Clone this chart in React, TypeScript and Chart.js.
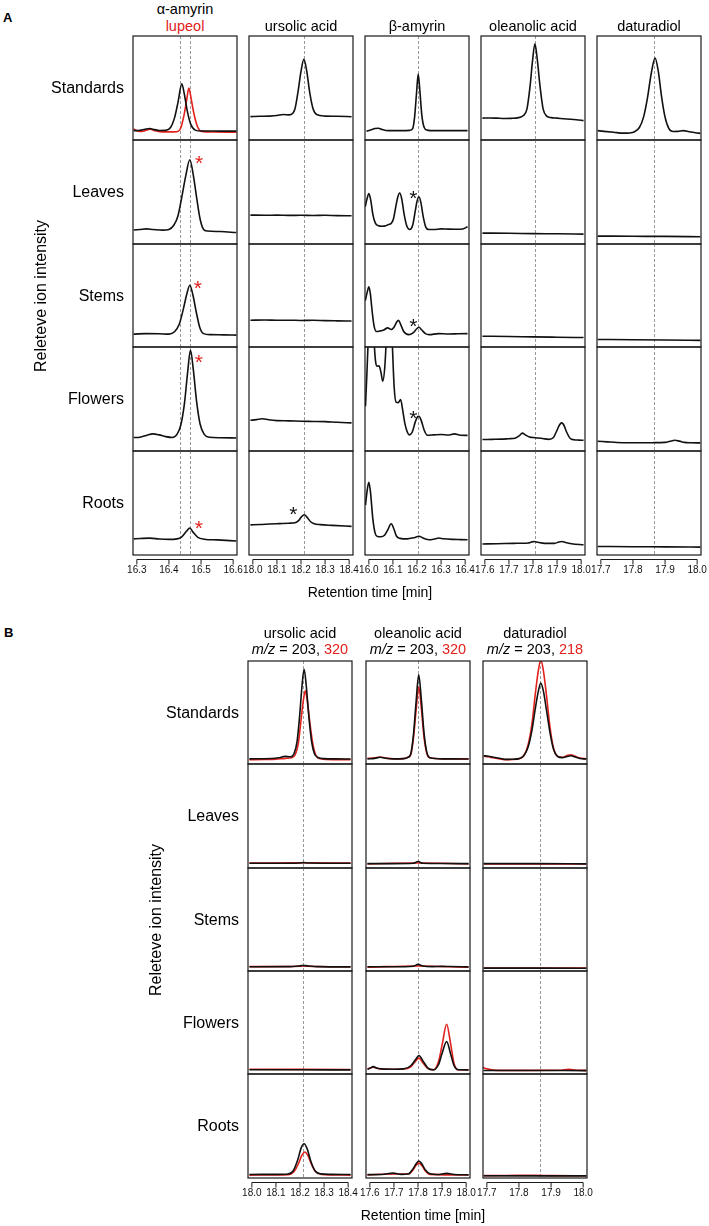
import React, { useEffect, useRef } from 'react';
import { Chart, registerables } from 'chart.js';

Chart.register(...registerables);

const FONT = '"Liberation Sans", Arial, Helvetica, sans-serif';
const BLACK = '#111111';
const RED = '#e2211c';

type Pt = [number, number];

// ---------------- labels ----------------
const tissues = ['Standards', 'Leaves', 'Stems', 'Flowers', 'Roots'];
const aTitles = ['α-amyrin', 'ursolic acid', 'β-amyrin', 'oleanolic acid', 'daturadiol'];
const bTitles = ['ursolic acid', 'oleanolic acid', 'daturadiol'];
const bIons = ['320', '320', '218'];
const yTitle = 'Releteve ion intensity';
const xTitle = 'Retention time [min]';

// ---------------- tick labels (min) ----------------
const aTicks = [
  [16.3, 16.4, 16.5, 16.6],
  [18.0, 18.1, 18.2, 18.3, 18.4],
  [16.0, 16.1, 16.2, 16.3, 16.4],
  [17.6, 17.7, 17.8, 17.9, 18.0],
  [17.7, 17.8, 17.9, 18.0],
];
const bTicks = [
  [18.0, 18.1, 18.2, 18.3, 18.4],
  [17.6, 17.7, 17.8, 17.9, 18.0],
  [17.7, 17.8, 17.9, 18.0],
];
// standard retention times (dashed markers)
const aMarkers = [[16.435, 16.467], [18.212], [16.203], [17.808], [17.866]];
const bMarkers = [[18.214], [17.801], [17.866]];

// ---------------- Panel A data [time, relative intensity] ----------------
const aAmyStd: Pt[] = [[16.29, 9.0], [16.31, 9.3], [16.325, 10.3], [16.34, 11.0], [16.355, 10.0], [16.37, 9.2], [16.39, 9.3], [16.405, 12], [16.418, 22], [16.428, 36], [16.44, 54], [16.448, 44], [16.457, 28], [16.468, 15], [16.482, 9.5], [16.5, 8.6], [16.54, 8.6], [16.58, 8.5], [16.61, 8.5]];
const aLupStd: Pt[] = [[16.29, 10.5], [16.3, 9], [16.315, 8.2], [16.33, 9.5], [16.342, 10.3], [16.355, 9], [16.37, 8], [16.4, 7.8], [16.425, 8], [16.436, 11], [16.447, 24], [16.455, 38], [16.462, 50], [16.469, 40], [16.478, 25], [16.49, 12], [16.502, 8.3], [16.54, 7.7], [16.61, 7.5]];
const aAmyLeaves: Pt[] = [[16.29, 13.5], [16.31, 14], [16.33, 14.5], [16.35, 14], [16.38, 13.3], [16.4, 14], [16.415, 18], [16.428, 27], [16.44, 45], [16.452, 65], [16.465, 81], [16.476, 66], [16.486, 45], [16.497, 24], [16.508, 14], [16.52, 12.5], [16.56, 12], [16.61, 11]];
const aAmyStems: Pt[] = [[16.29, 12.5], [16.33, 13], [16.37, 12.8], [16.4, 12.5], [16.418, 15], [16.432, 22], [16.445, 37], [16.456, 52], [16.465, 60], [16.475, 50], [16.485, 34], [16.496, 19], [16.508, 13], [16.53, 12], [16.57, 11.8], [16.61, 11.5]];
const aAmyFlowers: Pt[] = [[16.29, 13], [16.31, 13.3], [16.33, 15], [16.35, 16.5], [16.37, 15.5], [16.39, 13.8], [16.41, 13], [16.425, 16], [16.437, 25], [16.448, 45], [16.458, 75], [16.467, 97], [16.476, 78], [16.486, 48], [16.497, 26], [16.51, 16], [16.525, 13.2], [16.56, 12.8], [16.61, 12.5]];
const aAmyRoots: Pt[] = [[16.29, 15.5], [16.31, 15.8], [16.34, 16.2], [16.37, 15.4], [16.4, 15], [16.425, 15.5], [16.44, 17.5], [16.455, 23], [16.465, 26], [16.475, 22], [16.49, 17], [16.51, 15.2], [16.55, 14.5], [16.61, 13.5]];

const aUrsStd: Pt[] = [[17.99, 22.5], [18.03, 22.8], [18.07, 23], [18.1, 23.5], [18.127, 24.5], [18.15, 24.2], [18.165, 25.5], [18.175, 30], [18.188, 47], [18.2, 66], [18.212, 77.5], [18.224, 66], [18.236, 46], [18.25, 30], [18.265, 24.5], [18.3, 23], [18.35, 22.8], [18.41, 22.4]];
const aUrsLeaves: Pt[] = [[17.99, 27.8], [18.05, 27.6], [18.1, 27.8], [18.15, 27.5], [18.2, 27.6], [18.25, 27.4], [18.3, 27.6], [18.35, 27.3], [18.41, 27.2]];
const aUrsStems: Pt[] = [[17.99, 26], [18.05, 26.2], [18.1, 25.9], [18.15, 26], [18.2, 25.8], [18.25, 25.9], [18.3, 25.6], [18.35, 25.4], [18.41, 25.2]];
const aUrsFlowers: Pt[] = [[17.99, 29.5], [18.015, 30.2], [18.04, 31], [18.065, 30], [18.1, 29.2], [18.15, 29], [18.2, 28.6], [18.25, 28.4], [18.3, 28.2], [18.35, 27.6], [18.41, 27]];
const aUrsRoots: Pt[] = [[17.99, 29], [18.03, 29.3], [18.07, 29.8], [18.11, 30.2], [18.15, 30.6], [18.175, 31], [18.19, 33], [18.203, 37], [18.214, 38.7], [18.226, 36], [18.24, 32], [18.255, 30], [18.28, 29.2], [18.33, 28.5], [18.41, 27.5]];

const aBamStd: Pt[] = [[15.99, 8.5], [16.01, 9.8], [16.025, 11], [16.04, 11.3], [16.055, 10], [16.07, 9.2], [16.1, 9], [16.14, 9], [16.17, 9.3], [16.182, 11], [16.19, 22], [16.198, 45], [16.205, 63.5], [16.212, 47], [16.22, 24], [16.23, 12], [16.242, 9.5], [16.27, 9], [16.32, 9], [16.36, 9], [16.41, 9]];
const aBamLeaves: Pt[] = [[15.985, 36], [15.992, 43], [16.0, 48.5], [16.008, 42], [16.017, 28], [16.027, 20], [16.04, 17.5], [16.055, 17], [16.07, 17.5], [16.082, 18.8], [16.092, 19.5], [16.102, 24], [16.112, 36], [16.12, 45], [16.128, 49], [16.136, 44], [16.147, 28], [16.158, 17], [16.17, 14], [16.182, 18], [16.193, 32], [16.2, 41], [16.208, 45.5], [16.216, 40], [16.226, 26], [16.236, 16.5], [16.248, 14], [16.27, 14], [16.3, 14.5], [16.33, 14.3], [16.36, 14.2], [16.39, 14.5], [16.41, 16.5]];
const aBamStems: Pt[] = [[15.985, 45], [15.993, 53], [16.0, 58.5], [16.006, 52], [16.014, 34], [16.022, 20], [16.032, 15], [16.045, 15.5], [16.062, 16.5], [16.078, 18.6], [16.093, 17], [16.105, 19.5], [16.115, 24], [16.123, 26], [16.132, 22], [16.145, 15], [16.165, 12], [16.185, 14], [16.198, 17.5], [16.208, 19.2], [16.22, 16.5], [16.235, 13], [16.25, 12], [16.29, 13], [16.33, 12.6], [16.37, 12.8], [16.41, 13]];
const aBamFlowers: Pt[] = [[15.986, 43], [15.992, 75], [15.998, 110], [16.006, 140], [16.016, 140], [16.022, 105], [16.028, 86], [16.035, 81.5], [16.042, 82], [16.05, 76], [16.058, 67], [16.066, 80], [16.073, 108], [16.082, 135], [16.092, 135], [16.098, 100], [16.105, 62], [16.113, 47], [16.122, 46.5], [16.132, 49.5], [16.14, 40], [16.15, 26], [16.16, 18], [16.168, 15.5], [16.18, 18], [16.193, 28], [16.203, 33], [16.208, 33.4], [16.218, 29], [16.23, 20], [16.243, 15.2], [16.27, 15.5], [16.3, 15.8], [16.33, 15.4], [16.355, 16.5], [16.38, 15.2], [16.41, 15]];
const aBamRoots: Pt[] = [[15.986, 48], [15.993, 62], [16.0, 70], [16.007, 60], [16.016, 36], [16.026, 21], [16.036, 17.8], [16.05, 17.5], [16.065, 19], [16.078, 24], [16.093, 30], [16.104, 25], [16.115, 18], [16.13, 16], [16.16, 15.5], [16.185, 16.5], [16.208, 18], [16.228, 16], [16.25, 14.6], [16.27, 15.2], [16.29, 16.3], [16.31, 15.6], [16.35, 15], [16.38, 14.8], [16.41, 14.6]];

const aOleStd: Pt[] = [[17.59, 21], [17.62, 21.2], [17.65, 21], [17.68, 20.7], [17.71, 20.8], [17.74, 21.5], [17.76, 23.5], [17.775, 30], [17.788, 52], [17.798, 76], [17.808, 92.5], [17.818, 77], [17.829, 52], [17.842, 30], [17.857, 23], [17.875, 21.5], [17.9, 21], [17.94, 20.2], [17.98, 19.5], [18.01, 18.6]];
const aOleLeaves: Pt[] = [[17.59, 10.5], [17.7, 10.3], [17.8, 10], [17.9, 9.8], [18.01, 9.5]];
const aOleStems: Pt[] = [[17.59, 10.5], [17.7, 10.2], [17.8, 9.8], [17.9, 9.5], [18.01, 9.2]];
const aOleFlowers: Pt[] = [[17.59, 11], [17.63, 11.2], [17.67, 11.4], [17.7, 11.8], [17.725, 12.3], [17.742, 14.5], [17.756, 17.2], [17.768, 15.5], [17.785, 13.5], [17.81, 12.8], [17.84, 12], [17.865, 11.2], [17.885, 13], [17.898, 19], [17.91, 25], [17.919, 27], [17.928, 25], [17.94, 18], [17.955, 12], [17.97, 10.8], [17.99, 10.5], [18.01, 10.3]];
const aOleRoots: Pt[] = [[17.59, 10.6], [17.65, 10.8], [17.72, 11.2], [17.78, 11.6], [17.794, 12.5], [17.806, 13], [17.82, 12.2], [17.85, 11.2], [17.89, 11.2], [17.907, 12.5], [17.92, 13], [17.935, 12], [17.96, 10.8], [18.01, 9.8]];

const aDatStd: Pt[] = [[17.69, 9], [17.71, 8.3], [17.74, 7.4], [17.77, 6.6], [17.79, 6.8], [17.805, 8], [17.82, 12], [17.833, 22], [17.845, 40], [17.857, 64], [17.869, 78.7], [17.879, 66], [17.889, 42], [17.9, 22], [17.912, 11], [17.925, 8.2], [17.94, 8.3], [17.957, 9], [17.975, 8], [17.995, 7], [18.01, 6.4]];
const aDatLeaves: Pt[] = [[17.69, 7.6], [17.8, 7.4], [17.9, 7.3], [18.01, 7]];
const aDatStems: Pt[] = [[17.69, 7.3], [17.8, 7.1], [17.9, 6.8], [18.01, 6.4]];
const aDatFlowers: Pt[] = [[17.69, 9.4], [17.72, 8.8], [17.75, 8.2], [17.78, 7.9], [17.82, 7.9], [17.86, 8], [17.9, 8.3], [17.915, 9.3], [17.93, 10.3], [17.945, 9.5], [17.96, 8.3], [17.98, 7.9], [18.01, 7.8]];
const aDatRoots: Pt[] = [[17.69, 8.2], [17.8, 8], [17.9, 7.8], [18.01, 7.6]];

// ---------------- Panel B data (m/z 203 black, second ion red) ----------------
const bUrs203Std: Pt[] = [[17.99, 5], [18.04, 5.1], [18.08, 5.3], [18.11, 6], [18.138, 7.4], [18.16, 7], [18.175, 10], [18.188, 22], [18.199, 48], [18.208, 75], [18.217, 92], [18.226, 76], [18.236, 48], [18.248, 22], [18.26, 10], [18.275, 6.3], [18.3, 5.2], [18.35, 5], [18.41, 4.8]];
const bUrs320Std: Pt[] = [[17.99, 4.2], [18.05, 4.3], [18.1, 4.6], [18.14, 5.5], [18.165, 6], [18.18, 9], [18.193, 20], [18.204, 42], [18.213, 60], [18.222, 71], [18.231, 60], [18.241, 40], [18.253, 20], [18.265, 9], [18.28, 5.3], [18.31, 4.5], [18.41, 4.2]];
const bUrs203Leaves: Pt[] = [[17.99, 4.5], [18.1, 4.5], [18.2, 4.8], [18.215, 5.2], [18.23, 4.8], [18.41, 4.5]];
const bUrs320Leaves: Pt[] = [[17.99, 4.8], [18.1, 4.8], [18.215, 5.0], [18.41, 4.7]];
const bUrs203Stems: Pt[] = [[17.99, 4.1], [18.15, 4.2], [18.2, 5], [18.214, 5.4], [18.23, 5], [18.28, 4.2], [18.41, 4]];
const bUrs320Stems: Pt[] = [[17.99, 4.2], [18.2, 4.6], [18.214, 5], [18.23, 4.6], [18.41, 4.1]];
const bUrs203Flowers: Pt[] = [[17.99, 4.1], [18.2, 4.1], [18.41, 4]];
const bUrs320Flowers: Pt[] = [[17.99, 4.6], [18.2, 4.5], [18.41, 4.4]];
const bUrs203Roots: Pt[] = [[17.99, 3.4], [18.1, 3.5], [18.15, 3.8], [18.172, 7], [18.19, 17], [18.205, 29], [18.217, 33], [18.23, 28], [18.245, 16], [18.262, 7], [18.285, 4], [18.33, 3.5], [18.41, 3.4]];
const bUrs320Roots: Pt[] = [[17.99, 2.8], [18.1, 2.9], [18.15, 3.1], [18.175, 6], [18.193, 13.5], [18.208, 22], [18.22, 25], [18.233, 21.5], [18.248, 13], [18.265, 6], [18.29, 3.3], [18.33, 2.9], [18.41, 2.8]];

const bOle203Std: Pt[] = [[17.59, 5], [17.62, 5.5], [17.642, 6.5], [17.665, 5.6], [17.7, 5], [17.74, 5.2], [17.758, 6.5], [17.77, 10], [17.781, 28], [17.792, 60], [17.803, 86.5], [17.814, 62], [17.825, 30], [17.837, 11], [17.85, 6], [17.9, 5], [17.95, 5], [18.01, 4.8]];
const bOle320Std: Pt[] = [[17.59, 5.5], [17.62, 6], [17.642, 6.8], [17.665, 5.8], [17.7, 5], [17.74, 5.2], [17.758, 6.5], [17.77, 9], [17.781, 25], [17.792, 52], [17.803, 75], [17.814, 54], [17.825, 26], [17.837, 10], [17.85, 6], [17.9, 5], [18.01, 5]];
const bOle203Leaves: Pt[] = [[17.59, 4.2], [17.7, 4.2], [17.78, 4.5], [17.8, 6.2], [17.82, 4.5], [17.9, 4.3], [18.01, 4.2]];
const bOle320Leaves: Pt[] = [[17.59, 4], [17.8, 4.8], [18.01, 4]];
const bOle203Stems: Pt[] = [[17.59, 4.1], [17.7, 4.1], [17.78, 4.6], [17.8, 6.4], [17.82, 4.8], [17.86, 4.2], [17.9, 4.5], [17.93, 4.3], [18.01, 4]];
const bOle320Stems: Pt[] = [[17.59, 3.8], [17.8, 4.9], [18.01, 3.7]];
const bOle203Flowers: Pt[] = [[17.59, 4.7], [17.6, 5.5], [17.614, 7.2], [17.63, 5.5], [17.66, 4.7], [17.7, 4.6], [17.74, 5], [17.77, 8], [17.79, 14], [17.804, 17.9], [17.82, 13], [17.84, 6], [17.864, 4.1], [17.885, 9], [17.9, 20], [17.919, 31.5], [17.935, 20], [17.95, 8], [17.967, 4.1], [18.01, 4]];
const bOle320Flowers: Pt[] = [[17.59, 5], [17.614, 6.5], [17.64, 5], [17.7, 4.6], [17.74, 4.8], [17.77, 7], [17.79, 12.5], [17.804, 15.4], [17.82, 11], [17.84, 5.5], [17.864, 4], [17.885, 12], [17.9, 28], [17.919, 48.3], [17.935, 30], [17.95, 10], [17.967, 4.1], [18.01, 4]];
const bOle203Roots: Pt[] = [[17.59, 3.2], [17.65, 3.4], [17.697, 4.7], [17.73, 3.5], [17.76, 4], [17.78, 9], [17.793, 14], [17.804, 16.3], [17.816, 13.5], [17.83, 8], [17.85, 4], [17.88, 3.4], [17.92, 4.4], [17.95, 3.4], [18.01, 3]];
const bOle320Roots: Pt[] = [[17.59, 3], [17.7, 3.8], [17.76, 3.8], [17.78, 8], [17.793, 12.5], [17.804, 14.3], [17.816, 12], [17.83, 7], [17.85, 3.5], [18.01, 2.9]];

const bDat203Std: Pt[] = [[17.69, 8], [17.705, 7.5], [17.72, 6.5], [17.74, 5.5], [17.76, 4.5], [17.78, 4.6], [17.8, 5.2], [17.815, 8], [17.828, 16], [17.84, 32], [17.851, 54], [17.86, 70], [17.868, 78.5], [17.876, 71], [17.886, 52], [17.897, 30], [17.908, 14], [17.92, 7.5], [17.935, 6.2], [17.95, 7.3], [17.962, 8], [17.975, 6.8], [17.99, 5.4], [18.01, 4.8]];
const bDat218Std: Pt[] = [[17.69, 7.5], [17.705, 7], [17.72, 6], [17.74, 5], [17.76, 4.2], [17.78, 4.4], [17.8, 5], [17.815, 8], [17.828, 18], [17.84, 38], [17.851, 68], [17.86, 90], [17.868, 101], [17.876, 91], [17.886, 66], [17.897, 35], [17.908, 15], [17.92, 7.5], [17.935, 6.5], [17.95, 8.2], [17.962, 9], [17.975, 7.5], [17.99, 5.8], [18.01, 5]];
const bDat203Leaves: Pt[] = [[17.69, 4.2], [17.85, 4.2], [18.01, 4]];
const bDat218Leaves: Pt[] = [[17.69, 4], [18.01, 3.9]];
const bDat203Stems: Pt[] = [[17.69, 2.8], [18.01, 2.7]];
const bDat218Stems: Pt[] = [[17.69, 2.9], [18.01, 2.8]];
const bDat203Flowers: Pt[] = [[17.69, 3.4], [17.8, 3.4], [18.01, 3.3]];
const bDat218Flowers: Pt[] = [[17.685, 6.7], [17.7, 5], [17.72, 3.8], [17.8, 3.5], [17.93, 3.6], [17.955, 4.5], [17.98, 3.6], [18.01, 3.5]];
const bDat203Roots: Pt[] = [[17.69, 2.1], [18.01, 2]];
const bDat218Roots: Pt[] = [[17.69, 2.3], [17.76, 2.4], [17.85, 2.6], [17.9, 2.3], [18.01, 2.2]];

// series grouped [column][row]
const aBlackCols: Pt[][][] = [
  [aAmyStd, aAmyLeaves, aAmyStems, aAmyFlowers, aAmyRoots],
  [aUrsStd, aUrsLeaves, aUrsStems, aUrsFlowers, aUrsRoots],
  [aBamStd, aBamLeaves, aBamStems, aBamFlowers, aBamRoots],
  [aOleStd, aOleLeaves, aOleStems, aOleFlowers, aOleRoots],
  [aDatStd, aDatLeaves, aDatStems, aDatFlowers, aDatRoots],
];
const bBlackCols: Pt[][][] = [
  [bUrs203Std, bUrs203Leaves, bUrs203Stems, bUrs203Flowers, bUrs203Roots],
  [bOle203Std, bOle203Leaves, bOle203Stems, bOle203Flowers, bOle203Roots],
  [bDat203Std, bDat203Leaves, bDat203Stems, bDat203Flowers, bDat203Roots],
];
const bRedCols: Pt[][][] = [
  [bUrs320Std, bUrs320Leaves, bUrs320Stems, bUrs320Flowers, bUrs320Roots],
  [bOle320Std, bOle320Leaves, bOle320Stems, bOle320Flowers, bOle320Roots],
  [bDat218Std, bDat218Leaves, bDat218Stems, bDat218Flowers, bDat218Roots],
];

// asterisks marking detected peaks: [column, row, time, intensity, red?]
const aStars: [number, number, number, number, boolean][] = [
  [0, 1, 16.494, 82.7, true],
  [0, 2, 16.49, 62.4, true],
  [0, 3, 16.493, 90.4, true],
  [0, 4, 16.493, 30.5, true],
  [1, 4, 18.168, 44, false],
  [2, 1, 16.185, 49.3, false],
  [2, 2, 16.185, 25.2, false],
  [2, 3, 16.185, 36.8, false],
];

// ---------------- layout ----------------
const PADX = 16;
const AXIS_H = 26;
const A_LEFT = [133, 249, 365, 481, 597];
const A_ROWS = [36, 140, 244, 347, 451, 555];
const B_LEFT = [248, 366, 483];
const B_ROWS = [661, 764, 868, 971, 1074, 1178];
const BOX_W = 104;

type Series = { pts: Pt[]; color: string };
type Star = { t: number; v: number; color: string };
type PanelSpec = {
  key: string; left: number; top: number; w: number; h: number;
  xMin: number; xMax: number; ticks: number[] | null; markers: number[];
  series: Series[]; stars: Star[];
};

function range(ticks: number[]): [number, number] {
  const lo = ticks[0];
  const hi = ticks[ticks.length - 1];
  const p = (hi - lo) * 0.04;
  return [lo - p, hi + p];
}

function buildSpecs(): PanelSpec[] {
  const specs: PanelSpec[] = [];
  for (let c = 0; c < 5; c++) {
    const [mn, mx] = range(aTicks[c]);
    for (let r = 0; r < 5; r++) {
      const series: Series[] = [{ pts: aBlackCols[c][r], color: BLACK }];
      if (c === 0 && r === 0) series.push({ pts: aLupStd, color: RED });
      const stars = aStars.filter((s) => s[0] === c && s[1] === r).map((s) => ({ t: s[2], v: s[3], color: s[4] ? RED : BLACK }));
      specs.push({
        key: `a${c}${r}`, left: A_LEFT[c], top: A_ROWS[r], w: BOX_W, h: A_ROWS[r + 1] - A_ROWS[r],
        xMin: mn, xMax: mx, ticks: r === 4 ? aTicks[c] : null, markers: aMarkers[c], series, stars,
      });
    }
  }
  for (let c = 0; c < 3; c++) {
    const [mn, mx] = range(bTicks[c]);
    for (let r = 0; r < 5; r++) {
      specs.push({
        key: `b${c}${r}`, left: B_LEFT[c], top: B_ROWS[r], w: BOX_W, h: B_ROWS[r + 1] - B_ROWS[r],
        xMin: mn, xMax: mx, ticks: r === 4 ? bTicks[c] : null, markers: bMarkers[c],
        series: [{ pts: bBlackCols[c][r], color: BLACK }, { pts: bRedCols[c][r], color: RED }], stars: [],
      });
    }
  }
  return specs;
}
const SPECS = buildSpecs();

function ChromPanel({ spec }: { spec: PanelSpec }) {
  const ref = useRef<HTMLCanvasElement | null>(null);
  const hasAxis = spec.ticks !== null;
  const cw = spec.w + 2 * PADX;
  const ch = spec.h + 1 + (hasAxis ? AXIS_H : 1);
  useEffect(() => {
    const canvas = ref.current;
    if (!canvas) return;
    const ticks = spec.ticks;
    const framePlugin = {
      id: 'frame',
      beforeDatasetsDraw(chart: any) {
        const { ctx, chartArea: a } = chart;
        const x = chart.scales.x;
        ctx.save();
        ctx.strokeStyle = '#9a9a9a';
        ctx.lineWidth = 1;
        ctx.setLineDash([3, 2]);
        for (const m of spec.markers) {
          const px = Math.round(x.getPixelForValue(m)) + 0.5;
          ctx.beginPath();
          ctx.moveTo(px, a.top);
          ctx.lineTo(px, a.bottom);
          ctx.stroke();
        }
        ctx.restore();
      },
      afterDatasetsDraw(chart: any) {
        const { ctx, chartArea: a } = chart;
        const x = chart.scales.x;
        const y = chart.scales.y;
        ctx.save();
        for (const s of spec.stars) {
          const fs = 21;
          ctx.font = `${fs}px ${FONT}`;
          ctx.fillStyle = s.color;
          ctx.textAlign = 'center';
          ctx.textBaseline = 'alphabetic';
          ctx.fillText('*', x.getPixelForValue(s.t), y.getPixelForValue(s.v) + fs * 0.58);
        }
        ctx.strokeStyle = '#1a1a1a';
        ctx.lineWidth = 1.2;
        ctx.setLineDash([]);
        ctx.strokeRect(a.left, a.top, a.right - a.left, a.bottom - a.top);
        if (ticks) {
          const yAx = a.bottom + 4.5;
          ctx.lineWidth = 1;
          ctx.beginPath();
          ctx.moveTo(x.getPixelForValue(ticks[0]), yAx);
          ctx.lineTo(x.getPixelForValue(ticks[ticks.length - 1]), yAx);
          for (const t of ticks) {
            const px = x.getPixelForValue(t);
            ctx.moveTo(px, yAx);
            ctx.lineTo(px, yAx + 5);
          }
          ctx.stroke();
        }
        ctx.restore();
      },
    };
    const chart = new Chart(canvas, {
      type: 'line',
      data: {
        datasets: spec.series.map((s) => ({
          data: s.pts.map(([t, v]) => ({ x: t, y: v })),
          borderColor: s.color,
          borderWidth: 1.6,
          pointRadius: 0,
          cubicInterpolationMode: 'monotone' as const,
          fill: false,
          borderJoinStyle: 'round' as const,
        })),
      },
      options: {
        animation: false,
        responsive: false,
        maintainAspectRatio: false,
        events: [],
        layout: { padding: { left: PADX, right: PADX, top: 1, bottom: hasAxis ? 0 : 1 } },
        plugins: { legend: { display: false }, tooltip: { enabled: false }, title: { display: false } },
        scales: {
          x: {
            type: 'linear',
            min: spec.xMin,
            max: spec.xMax,
            display: hasAxis,
            grid: { display: false, drawTicks: false },
            border: { display: false },
            afterBuildTicks: (ax: any) => {
              if (ticks) ax.ticks = ticks.map((v) => ({ value: v }));
            },
            afterFit: (ax: any) => {
              ax.height = hasAxis ? AXIS_H : 0;
            },
            ticks: {
              autoSkip: false,
              maxRotation: 0,
              minRotation: 0,
              padding: 9,
              color: '#111',
              font: { family: FONT, size: 10 },
              callback: (v: any) => Number(v).toFixed(1),
            },
          },
          y: { type: 'linear', min: 0, max: 100, display: false },
        },
      } as any,
      plugins: [framePlugin],
    });
    return () => chart.destroy();
  }, [spec]);
  return (
    <canvas
      ref={ref}
      width={cw}
      height={ch}
      style={{ position: 'absolute', left: spec.left - PADX, top: spec.top - 1, width: cw, height: ch }}
    />
  );
}

type TxtProps = { x: number; y: number; size: number; align?: 'left' | 'center' | 'right'; bold?: boolean; color?: string; rotate?: boolean; children: React.ReactNode };
function Txt({ x, y, size, align = 'center', bold, color = '#000', rotate, children }: TxtProps) {
  const tx = align === 'center' ? '-50%' : align === 'right' ? '-100%' : '0';
  return (
    <div
      style={{
        position: 'absolute', left: x, top: y, fontFamily: FONT, fontSize: size, lineHeight: 1,
        fontWeight: bold ? 700 : 400, color, whiteSpace: 'nowrap',
        transform: `translate(${tx}, -50%)${rotate ? ' rotate(-90deg)' : ''}`,
      }}
    >
      {children}
    </div>
  );
}

export default function App() {
  const aMid = (A_ROWS[0] + A_ROWS[5]) / 2;
  const bMid = (B_ROWS[0] + B_ROWS[5]) / 2;
  return (
    <div style={{ position: 'absolute', left: 0, top: 0, width: 709, height: 1226, background: '#fff', overflow: 'hidden' }}>
      {SPECS.map((s) => <ChromPanel key={s.key} spec={s} />)}

      {/* Panel A labels */}
      <Txt x={3} y={16.5} size={13} align="left" bold>A</Txt>
      <Txt x={A_LEFT[0] + BOX_W / 2} y={8.5} size={14.5}>{aTitles[0]}</Txt>
      <Txt x={A_LEFT[0] + BOX_W / 2} y={25.5} size={14.5} color={RED}>lupeol</Txt>
      {aTitles.slice(1).map((t, i) => (
        <Txt key={t} x={A_LEFT[i + 1] + BOX_W / 2} y={25.5} size={14.5}>{t}</Txt>
      ))}
      {tissues.map((t, r) => (
        <Txt key={'ar' + t} x={A_LEFT[0] - 9} y={(A_ROWS[r] + A_ROWS[r + 1]) / 2} size={16} align="right">{t}</Txt>
      ))}
      <Txt x={41} y={aMid} size={16} rotate>{yTitle}</Txt>
      <Txt x={370} y={592} size={14}>{xTitle}</Txt>

      {/* Panel B labels */}
      <Txt x={4} y={632} size={13} align="left" bold>B</Txt>
      {bTitles.map((t, i) => (
        <React.Fragment key={'bt' + t}>
          <Txt x={B_LEFT[i] + BOX_W / 2} y={632.5} size={14.5}>{t}</Txt>
          <Txt x={B_LEFT[i] + BOX_W / 2} y={648.5} size={14.5}>
            <i>m/z</i> = 203, <span style={{ color: RED }}>{bIons[i]}</span>
          </Txt>
        </React.Fragment>
      ))}
      {tissues.map((t, r) => (
        <Txt key={'br' + t} x={B_LEFT[0] - 9} y={(B_ROWS[r] + B_ROWS[r + 1]) / 2} size={16} align="right">{t}</Txt>
      ))}
      <Txt x={156} y={bMid} size={16} rotate>{yTitle}</Txt>
      <Txt x={423} y={1215} size={14}>{xTitle}</Txt>
    </div>
  );
}
